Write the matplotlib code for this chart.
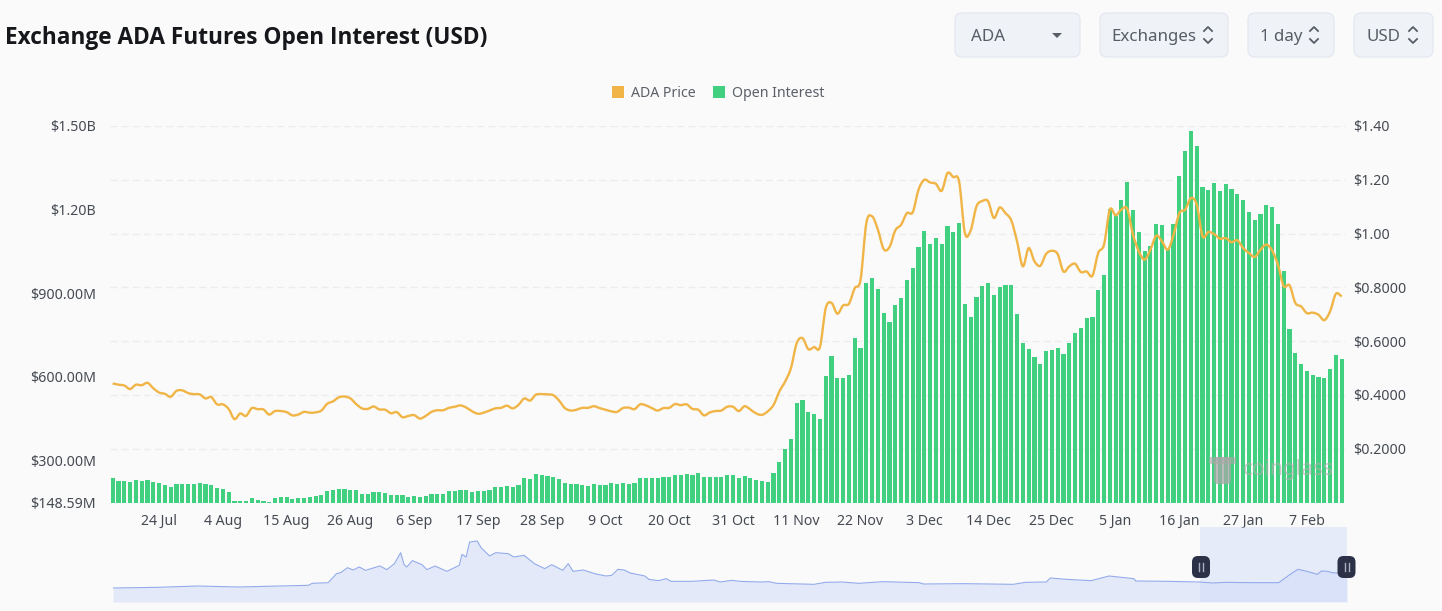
import matplotlib
matplotlib.use("Agg")
import matplotlib.pyplot as plt
import pandas as pd
from matplotlib.patches import FancyBboxPatch, PathPatch, Rectangle
from matplotlib.path import Path

plt.rcParams["font.family"] = ["Noto Sans", "DejaVu Sans"]

W, H = 1442, 611
BG = "#fafafa"
GREEN = "#40d07f"
ORANGE = "#f0b546"
TEXT = "#454a52"

start_date = "2024-07-16"

# open interest, millions of USD
open_interest = [
    236, 227, 224, 222, 228, 227, 230, 222, 217, 211, 204, 215, 216, 215, 215, 219, 215, 212, 201, 198,
    188, 155, 153, 153, 164, 158, 155, 150, 165, 167, 167, 161, 164, 165, 170, 173, 176, 191, 195, 198,
    198, 193, 192, 180, 180, 188, 185, 183, 174, 176, 174, 169, 173, 170, 173, 180, 180, 180, 191, 191,
    194, 193, 188, 189, 191, 192,
    205, 205, 207, 203, 213, 237, 234, 251, 247, 245, 240, 233, 219, 216, 216, 211, 209, 216, 213, 213,
    218, 216, 218, 216, 218, 235, 237, 236, 237, 241, 241, 248, 247, 251, 247, 255, 241, 241, 241, 239,
    246, 246, 237, 243, 237, 230, 227,
    221, 253, 294, 342, 378, 504, 515, 474, 467, 450, 603, 674, 596, 595, 605, 738, 703, 935, 955, 914,
    827, 795, 858, 882, 947, 990, 1065, 1122, 1076, 1098, 1075, 1142, 1119, 1151, 861, 816, 888, 924, 937, 894,
    923, 929, 929, 824, 722, 699, 672, 644, 693, 695, 702,
    683, 720, 757, 776, 810, 813, 911, 966, 1202, 1178, 1235, 1298, 1200, 1121, 1051, 1070, 1148, 1146, 1058, 1147,
    1319, 1410, 1481, 1428, 1280, 1271, 1296, 1267, 1292, 1275, 1256, 1236, 1193, 1161, 1185, 1218, 1209, 1149, 979, 773,
    686, 644, 620, 605, 599, 596, 627, 677, 665,
]

# ADA price, USD
ada_price = [
    .443, .438, .435, .422, .438, .436, .445, .425, .409, .404, .393, .415, .417, .407, .403, .402, .387, .392, .365, .365,
    .348, .310, .331, .322, .351, .347, .346, .327, .340, .340, .336, .324, .327, .337, .334, .335, .342, .367, .376, .391,
    .394, .387, .366, .350, .348, .357, .346, .345, .332, .336, .317, .322, .325, .312, .322, .337, .343, .343, .352, .356,
    .361, .353, .339, .330, .334, .342,
    .350, .352, .360, .350, .363, .387, .379, .401, .403, .402, .399, .379, .351, .342, .345, .352, .352, .358, .351, .345,
    .339, .337, .351, .353, .347, .365, .361, .351, .342, .351, .352, .366, .362, .365, .348, .345, .324, .335, .340, .342,
    .356, .356, .340, .358, .346, .331, .326,
    .339, .363, .413, .450, .500, .593, .611, .570, .578, .578, .723, .742, .702, .733, .739, .797, .828, 1.039, 1.064, 1.014,
    .942, .950, 1.012, 1.033, 1.076, 1.079, 1.163, 1.200, 1.190, 1.185, 1.159, 1.225, 1.210, 1.194, 1.002, 1.012, 1.101, 1.121, 1.120, 1.058,
    1.097, 1.076, 1.049, .971, .878, .946, .897, .880, .924, .936, .924,
    .859, .878, .888, .857, .859, .843, .928, .959, 1.089, 1.068, 1.089, 1.092, .996, .934, .903, .940, .992, .971, .940, .996,
    1.076, 1.089, 1.132, 1.107, .990, 1.006, .998, .981, .983, .968, .975, .946, .928, .913, .940, .959, .937, .884, .804, .808,
    .742, .729, .704, .706, .698, .678, .711, .776, .766,
]

oi_ticks = [148.59, 300, 600, 900, 1200, 1500]
oi_tick_labels = ["$148.59M", "$300.00M", "$600.00M", "$900.00M", "$1.20B", "$1.50B"]
price_ticks = [0.2, 0.4, 0.6, 0.8, 1.0, 1.2, 1.4]
price_tick_labels = ["$0.2000", "$0.4000", "$0.6000", "$0.8000", "$1.00", "$1.20", "$1.40"]

# overview strip under the chart: day number in full history, relative level
nav_day = [
    0, 64, 123, 182, 241, 283, 289, 312, 324, 330, 340, 348, 357, 366, 387, 397, 408, 417, 422, 426,
    434, 448, 455, 467, 484, 502, 506, 512, 517, 528, 534, 546, 555, 573, 581, 596, 611, 626, 636, 652,
    660, 667, 682, 700, 715, 723, 732, 741, 750, 771, 777, 791, 802, 809, 839, 871, 880, 897, 909, 939,
    951, 962, 1016, 1033, 1057, 1081, 1116, 1169, 1175, 1234, 1305, 1323, 1353, 1359, 1382, 1418, 1444, 1480, 1483, 1530,
    1575, 1595, 1613, 1649, 1690, 1708, 1718, 1731, 1746, 1752, 1761, 1767, 1789,
]
nav_level = [
    42, 44, 48, 45, 48, 50, 56, 58, 85, 88, 103, 96, 105, 95, 108, 97, 115, 148, 112, 105,
    124, 112, 97, 108, 92, 110, 143, 135, 180, 183, 162, 138, 148, 145, 135, 140, 115, 100, 112, 95,
    115, 92, 96, 84, 78, 80, 98, 96, 87, 78, 68, 64, 70, 62, 62, 66, 60, 65, 62, 60,
    61, 56, 53, 59, 60, 56, 61, 58, 54, 55, 53, 59, 60, 72, 68, 64, 78, 70, 63, 62,
    60, 57, 59, 58, 58, 85, 98, 92, 83, 93, 92, 88, 85,
]


def rect_from_px(left, top, right, bottom):
    return [left / W, 1 - bottom / H, (right - left) / W, (bottom - top) / H]


def smooth_path(xs, ys):
    """Bezier through the given points, the way the site draws a smoothed line"""
    verts = [(xs[0], ys[0])]
    codes = [Path.MOVETO]
    last = len(xs) - 1
    for i in range(last):
        a, d = max(i - 1, 0), min(i + 2, last)
        verts.append((xs[i] + (xs[i + 1] - xs[a]) / 6, ys[i] + (ys[i + 1] - ys[a]) / 6))
        verts.append((xs[i + 1] - (xs[d] - xs[i]) / 6, ys[i + 1] - (ys[d] - ys[i]) / 6))
        verts.append((xs[i + 1], ys[i + 1]))
        codes += [Path.CURVE4] * 3
    return Path(verts, codes)


dates = pd.date_range(start_date, periods=len(open_interest))
x = list(range(len(dates)))
tick_idx = list(range(8, len(dates), 11))
tick_labels = [f"{dates[i].day} {dates[i]:%b}" for i in tick_idx]

fig = plt.figure(figsize=(W / 100, H / 100), dpi=100, facecolor=BG)
main_rect = rect_from_px(109.8, 126, 1344.6, 502.5)

# grid sits at the bottom, it follows the price axis
ax_grid = fig.add_axes(main_rect, facecolor=BG, zorder=1)
ax_grid.set_xlim(-0.5, len(x) - 0.5)
ax_grid.set_ylim(0, 1.4)
ax_grid.set_yticks(price_ticks)
ax_grid.set_xticks([])
ax_grid.tick_params(left=False, labelleft=False)
ax_grid.grid(axis="y", color="#ececee", lw=1, ls=(0, (5, 3)))

ax_oi = fig.add_axes(main_rect, facecolor="none", zorder=2)
ax_oi.bar(x, open_interest, width=0.72, color=GREEN)
ax_oi.set_xlim(-0.5, len(x) - 0.5)
ax_oi.set_ylim(oi_ticks[0], oi_ticks[-1])
ax_oi.set_yticks(oi_ticks, oi_tick_labels)
ax_oi.set_xticks(tick_idx, tick_labels)
ax_oi.tick_params(axis="both", length=0, labelsize=10.2, labelcolor=TEXT)
ax_oi.tick_params(axis="y", pad=10)
ax_oi.tick_params(axis="x", pad=8)

ax_price = fig.add_axes(main_rect, facecolor="none", zorder=3)
ax_price.add_patch(PathPatch(smooth_path(x, ada_price), fc="none", ec=ORANGE, lw=1.7, joinstyle="round"))
ax_price.set_xlim(-0.5, len(x) - 0.5)
ax_price.set_ylim(0, 1.4)
ax_price.set_xticks([])
ax_price.yaxis.tick_right()
ax_price.set_yticks(price_ticks, price_tick_labels)
ax_price.tick_params(axis="y", length=0, labelsize=10.2, labelcolor=TEXT, pad=6)

for a in (ax_grid, ax_oi, ax_price):
    for s in a.spines.values():
        s.set_visible(False)

# overview strip
ax_nav = fig.add_axes(rect_from_px(113, 527, 1347, 602), facecolor="none", zorder=2)
ax_nav.fill_between(nav_day, nav_level, 0, color="#e3e9f8", lw=0)
ax_nav.plot(nav_day, nav_level, color="#93abec", lw=0.8)
ax_nav.axvspan(nav_day[-1] - len(x), nav_day[-1], color="#cfdaf8", alpha=0.45, lw=0)
ax_nav.set_xlim(0, nav_day[-1])
ax_nav.set_ylim(0, 225)
ax_nav.axis("off")

# page furniture drawn in pixel coords
ui = fig.add_axes([0, 0, 1, 1], facecolor="none", zorder=5)
ui.set_xlim(0, W)
ui.set_ylim(H, 0)
ui.axis("off")

ui.text(5, 38, "Exchange ADA Futures Open Interest (USD)", fontsize=16.3, fontweight="bold",
        family="Open Sans", color="#15171a", va="center", ha="left")


def button(left, right, label, text_x):
    ui.add_patch(FancyBboxPatch((left, 13), right - left, 44, boxstyle="round,pad=0,rounding_size=7",
                                fc="#eff2f7", ec="#e5e9f1", lw=1))
    ui.text(text_x, 37, label, fontsize=12.2, color="#575c66", va="center", ha="left")


def chevrons(cx):
    ui.plot([cx - 4, cx, cx + 4], [31, 27, 31], color="#575c66", lw=1.3)
    ui.plot([cx - 4, cx, cx + 4], [39, 43, 39], color="#575c66", lw=1.3)


button(955, 1080, "ADA", 971)
ui.fill([1052, 1062, 1057], [33, 33, 38], color="#575c66", lw=0)
button(1100, 1228, "Exchanges", 1111)
chevrons(1208)
button(1248, 1334, "1 day", 1260)
chevrons(1314)
button(1354, 1433, "USD", 1366)
chevrons(1413)

# legend
ui.add_patch(Rectangle((612, 86), 12, 12, fc=ORANGE, ec="none"))
ui.text(631, 93.5, "ADA Price", fontsize=10.2, color="#5b6068", va="center")
ui.add_patch(Rectangle((713, 86), 12, 12, fc=GREEN, ec="none"))
ui.text(732, 93.5, "Open Interest", fontsize=10.2, color="#5b6068", va="center")

# watermark
ui.add_patch(FancyBboxPatch((1214, 457), 17, 27, boxstyle="round,pad=0,rounding_size=4",
                            fc="#a8a8a8", ec="none", alpha=0.75))
ui.add_patch(Rectangle((1209, 457), 27, 7, fc="#a8a8a8", ec="none", alpha=0.6))
ui.text(1243, 470, "coinglass", fontsize=15, color="#b0b0b0", alpha=0.65, va="center")

# range handles
for cx in (1201, 1346.5):
    ui.add_patch(FancyBboxPatch((cx - 9, 556), 18, 22, boxstyle="round,pad=0,rounding_size=6",
                                fc="#2c3148", ec="none"))
    ui.plot([cx - 2, cx - 2], [563, 571], color="#aab0c2", lw=1)
    ui.plot([cx + 2, cx + 2], [563, 571], color="#aab0c2", lw=1)

fig.savefig("out.png", dpi=100, facecolor=BG)
